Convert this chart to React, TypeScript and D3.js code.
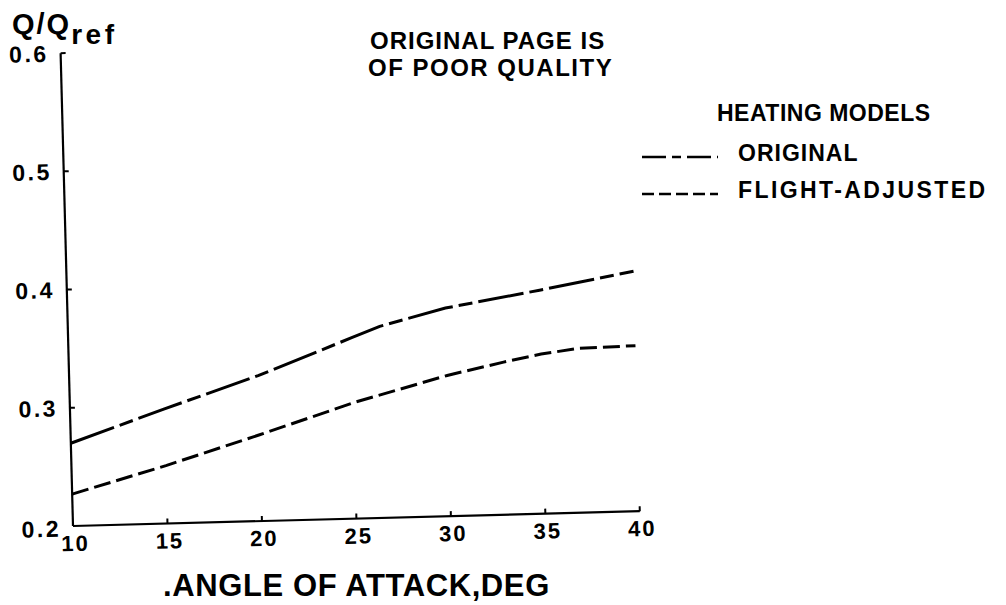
import React from "react";
import * as d3 from "d3";

// angle of attack, deg
const origAngles = [10, 15, 20, 25, 26.5, 30, 35, 40];
const origQ = [0.27, 0.297, 0.323, 0.353, 0.362, 0.376, 0.389, 0.403];
const flightAngles = [10, 15, 20, 25, 30, 33, 35, 37, 40];
const flightQ = [0.227, 0.249, 0.273, 0.298, 0.319, 0.329, 0.335, 0.339, 0.34];

const xTicks = [10, 15, 20, 25, 30, 35, 40];
const yTicks = [0.2, 0.3, 0.4, 0.5, 0.6];

const font = "'Liberation Sans', Arial, sans-serif";
const ink = "#000";

const x = d3.scaleLinear().domain([10, 40]).range([73, 640]);
const y = d3.scaleLinear().domain([0.2, 0.6]).range([526, 53]);

const line = d3
  .line<[number, number]>()
  .x(d => x(d[0]))
  .y(d => y(d[1]))
  .curve(d3.curveLinear);

const origPts = origAngles.map((a, i) => [a, origQ[i]] as [number, number]);
const flightPts = flightAngles.map((a, i) => [a, flightQ[i]] as [number, number]);

const legendRows = [
  { label: "ORIGINAL", dash: "24 6 9 6", ls: 1 },
  { label: "FLIGHT-ADJUSTED", dash: "12 5", ls: 2.4 }
];

export default function App() {
  const fmt = d3.format(".1f");
  return (
    <svg
      width={1006}
      height={605}
      style={{ position: "absolute", left: 0, top: 0, background: "#fff" }}
      fontFamily={font}
      fontWeight="bold"
    >
      {/* the scanned plot sits slightly rotated on the page */}
      <g transform="rotate(-1.5, 73, 526)">
        <line x1={x(10)} x2={x(10)} y1={y(0.2)} y2={y(0.6)} stroke={ink} strokeWidth={2.2} />
        <line x1={x(10)} x2={x(40)} y1={y(0.2)} y2={y(0.2)} stroke={ink} strokeWidth={2.2} />

        {yTicks.slice(1).map(t => (
          <line key={"yt" + t} x1={x(10)} x2={x(10) + 5} y1={y(t)} y2={y(t)} stroke={ink} strokeWidth={2} />
        ))}
        {xTicks.slice(1).map(t => (
          <line key={"xt" + t} x1={x(t)} x2={x(t)} y1={y(0.2)} y2={y(0.2) - 5} stroke={ink} strokeWidth={2} />
        ))}

        {yTicks.map(t => (
          <text
            key={"yl" + t}
            x={x(10) - 12}
            y={y(t)}
            dy={t === 0.2 ? "0.45em" : "0.36em"}
            textAnchor="end"
            fontSize={23}
            letterSpacing={2.5}
          >
            {fmt(t)}
          </text>
        ))}
        {xTicks.map(t => (
          <text
            key={"xl" + t}
            x={x(t) + 2}
            y={y(0.2) + 25}
            textAnchor="middle"
            fontSize={22}
            letterSpacing={2}
          >
            {t}
          </text>
        ))}

        <path d={line(origPts) || ""} fill="none" stroke={ink} strokeWidth={3} strokeDasharray="46 6 14 6" />
        <path d={line(flightPts) || ""} fill="none" stroke={ink} strokeWidth={3} strokeDasharray="17 6" />
      </g>

      <text x={12} y={34} fontSize={29} letterSpacing={2}>
        Q/Q
        <tspan dy={10} fontSize={28} letterSpacing={3.5}>ref</tspan>
      </text>

      <text x={370} y={49} fontSize={24} letterSpacing={1}>ORIGINAL PAGE IS</text>
      <text x={368} y={76} fontSize={24} letterSpacing={1.5}>OF POOR QUALITY</text>

      <text x={717} y={121} fontSize={23} letterSpacing={0.5}>HEATING MODELS</text>
      {legendRows.map((r, i) => (
        <g key={r.label} transform={`translate(0, ${153 + i * 37})`}>
          <line x1={642} x2={718} y1={4} y2={4} stroke={ink} strokeWidth={2.5} strokeDasharray={r.dash} />
          <text x={738} y={0} dy="0.36em" fontSize={23} letterSpacing={r.ls}>
            {r.label}
          </text>
        </g>
      ))}

      <text x={163} y={596} fontSize={31} letterSpacing={0.6}>
        .ANGLE OF ATTACK,DEG
      </text>
    </svg>
  );
}
